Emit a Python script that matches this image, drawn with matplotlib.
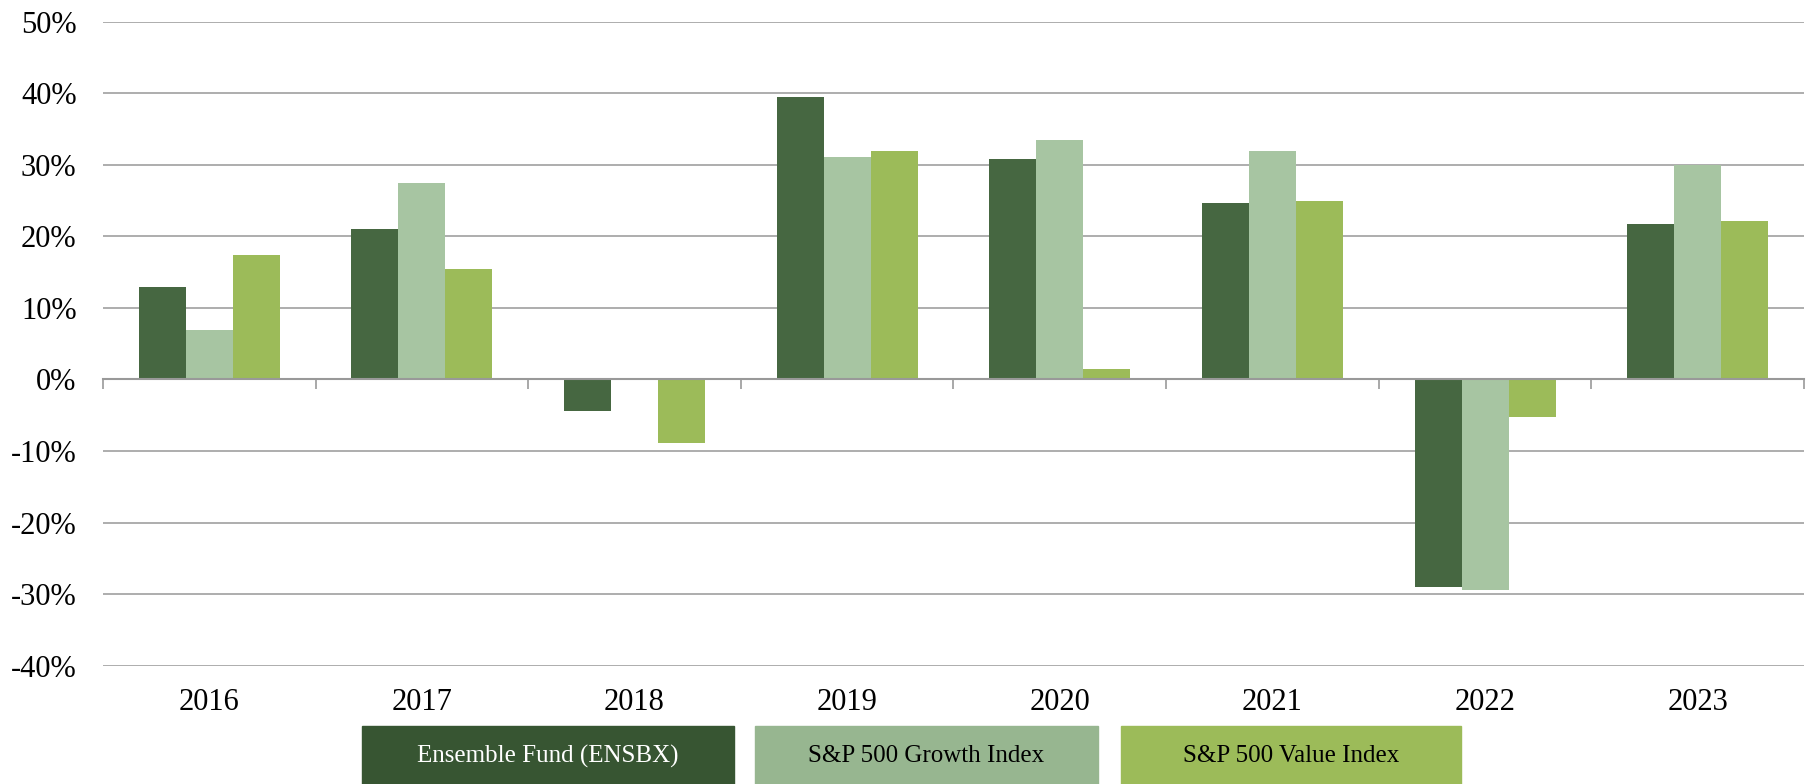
import matplotlib
matplotlib.use('Agg')
import matplotlib.pyplot as plt
import numpy as np
from matplotlib.patches import Rectangle

years = ['2016', '2017', '2018', '2019', '2020', '2021', '2022', '2023']
ensemble = [12.9, 21.1, -4.4, 39.5, 30.8, 24.7, -29.0, 21.7]
growth = [6.9, 27.4, 0.0, 31.1, 33.4, 31.9, -29.4, 30.0]
value = [17.4, 15.4, -8.9, 31.9, 1.4, 24.9, -5.2, 22.2]

series_names = ['Ensemble Fund (ENSBX)', 'S&P 500 Growth Index', 'S&P 500 Value Index']
bar_colors = ['#466741', '#a7c5a2', '#9cbb59']
legend_colors = ['#375532', '#97b690', '#9cbb59']
legend_text_colors = ['white', 'black', 'black']

plt.rcParams['font.family'] = ['Liberation Serif', 'DejaVu Serif']

fig = plt.figure(figsize=(18.16, 7.84), dpi=100)
ax = fig.add_axes([0.0567, 0.1509, 0.9367, 0.8214])

x = np.arange(len(years))
w = 0.221
for k, vals in enumerate([ensemble, growth, value]):
    ax.bar(x + (k - 1) * w, vals, width=w, color=bar_colors[k], zorder=3,
           edgecolor='none')

ax.set_xlim(-0.5, len(years) - 0.5)
ax.set_ylim(-40, 50)
ax.set_yticks(range(-40, 51, 10))
ax.set_yticklabels([f'{v}%' for v in range(-40, 51, 10)], fontsize=22)
ax.tick_params(axis='y', length=0, pad=19)

# category boundary ticks hang below the zero line
ax.set_xticks(np.arange(-0.5, len(years), 1))
ax.set_xticklabels([])
ax.tick_params(axis='x', length=7, width=1.2, color='#999999', direction='out')
ax.spines['bottom'].set_position(('data', 0))
ax.spines['bottom'].set_color('#999999')
ax.spines['bottom'].set_linewidth(1.5)
ax.spines['bottom'].set_zorder(4)
for s in ['top', 'right', 'left']:
    ax.spines[s].set_visible(False)

ax.grid(axis='y', color='#a0a0a0', linewidth=1.2, zorder=0)

# year labels under the plot area
for i, yr in enumerate(years):
    ax.text(i, -45.2, yr, ha='center', va='center', fontsize=22)

# legend boxes along the bottom
W, H = 1816, 784
boxes = [(362, 734), (755, 1098), (1121, 1461)]
for (x0, x1), name, c, tc in zip(boxes, series_names, legend_colors, legend_text_colors):
    fig.add_artist(Rectangle((x0 / W, 0), (x1 - x0) / W, (784 - 726) / H,
                             transform=fig.transFigure, color=c))
    fig.text((x0 + x1) / 2 / W, 1 - 756 / H, name, ha='center', va='center',
             fontsize=18, color=tc)

plt.savefig('out.png', dpi=100)
